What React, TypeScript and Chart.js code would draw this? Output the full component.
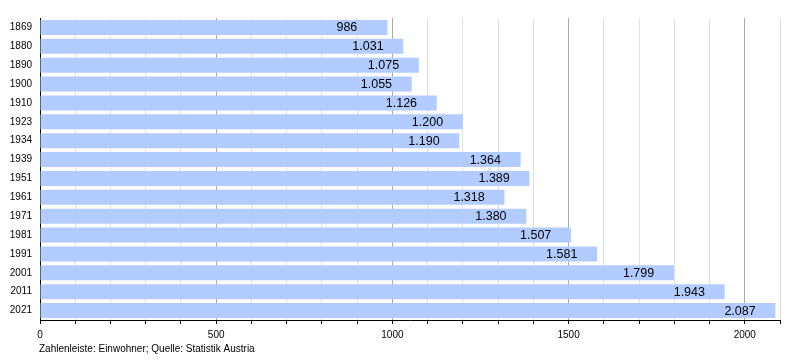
import React, { useEffect, useRef } from "react";
import { Chart, registerables } from "chart.js";

Chart.register(...registerables);

const years = ["1869", "1880", "1890", "1900", "1910", "1923", "1934", "1939", "1951", "1961", "1971", "1981", "1991", "2001", "2011", "2021"];
const population = [986, 1031, 1075, 1055, 1126, 1200, 1190, 1364, 1389, 1318, 1380, 1507, 1581, 1799, 1943, 2087];
const axisMax = 2100;
const majorStep = 500;
const minorStep = 100;
const footerText = "Zahlenleiste: Einwohner; Quelle: Statistik Austria";

const FONT = "'Liberation Sans', Arial, Helvetica, sans-serif";

function formatDe(n: number): string {
  const s = String(Math.round(n));
  return s.replace(/\B(?=(\d{3})+(?!\d))/g, ".");
}

const labelPlugin = {
  id: "barLabels",
  afterDatasetsDraw(chart: any) {
    const ctx = chart.ctx;
    const meta = chart.getDatasetMeta(0);
    ctx.save();
    ctx.font = `12.5px ${FONT}`;
    ctx.fillStyle = "#000";
    ctx.textAlign = "left";
    ctx.textBaseline = "middle";
    meta.data.forEach((el: any, i: number) => {
      ctx.fillText(formatDe(population[i]), el.x - 51, el.y + 0.5);
    });
    ctx.restore();
  },
};

const footerPlugin = {
  id: "footer",
  afterDraw(chart: any) {
    const ctx = chart.ctx;
    ctx.save();
    ctx.font = `10px ${FONT}`;
    ctx.fillStyle = "#000";
    ctx.textAlign = "left";
    ctx.textBaseline = "middle";
    ctx.fillText(footerText, 39, 349);
    ctx.restore();
  },
};

export default function App() {
  const ref = useRef<HTMLCanvasElement | null>(null);

  useEffect(() => {
    document.body.style.margin = "0";
    const canvas = ref.current;
    if (!canvas) return;
    const chart = new Chart(canvas, {
      type: "bar",
      data: {
        labels: years,
        datasets: [
          {
            data: population,
            backgroundColor: "#b3ccff",
            borderWidth: 0,
            barPercentage: 0.8,
            categoryPercentage: 1,
          },
        ],
      },
      options: {
        indexAxis: "y",
        responsive: false,
        animation: false,
        devicePixelRatio: 1,
        layout: { padding: { top: 18, right: 20, left: 0, bottom: 0 } },
        plugins: {
          legend: { display: false },
          tooltip: { enabled: false },
        },
        scales: {
          x: {
            type: "linear",
            min: 0,
            max: axisMax,
            afterFit(scale: any) {
              scale.height = 40;
            },
            afterBuildTicks(scale: any) {
              const t = [];
              for (let v = 0; v <= axisMax; v += minorStep) t.push({ value: v });
              scale.ticks = t;
            },
            ticks: {
              autoSkip: false,
              maxRotation: 0,
              padding: 5,
              color: "#000",
              font: { family: FONT, size: 10 },
              callback: (v: any) => (Number(v) % majorStep === 0 ? String(v) : ""),
            },
            grid: {
              drawTicks: true,
              tickLength: 4,
              tickColor: "#000",
              color: (c: any) => {
                const v = c.tick ? c.tick.value : 0;
                if (v === 0) return "#000";
                return v % majorStep === 0 ? "#ababab" : "#e0e0e0";
              },
              lineWidth: 1,
            },
            border: { display: true, color: "#000", width: 1 },
          },
          y: {
            afterFit(scale: any) {
              scale.width = 40;
            },
            ticks: {
              autoSkip: false,
              padding: 8,
              color: "#000",
              font: { family: FONT, size: 10 },
            },
            grid: { display: false, drawTicks: false },
            border: { display: true, color: "#000", width: 1 },
          },
        },
      },
      plugins: [labelPlugin, footerPlugin],
    } as any);
    return () => chart.destroy();
  }, []);

  return <canvas ref={ref} width={800} height={360} style={{ display: "block" }} />;
}
